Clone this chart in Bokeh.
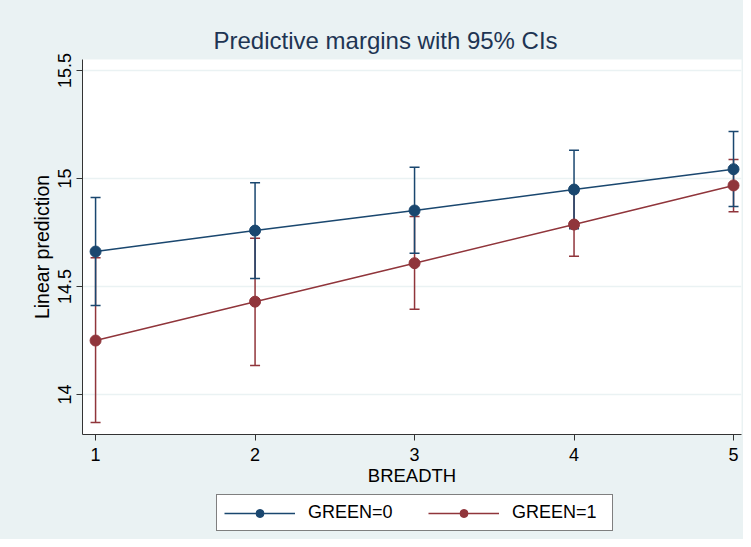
from bokeh.plotting import figure
from bokeh.models import (ColumnDataSource, Whisker, TeeHead, Legend, LegendItem,
                          FixedTicker, Range1d)
from bokeh.layouts import column
from bokeh.embed import file_html
from bokeh.resources import INLINE

# ---- data ----
breadth = [1, 2, 3, 4, 5]
green0_mean = [14.662, 14.759, 14.852, 14.949, 15.043]
green0_lower = [14.412, 14.537, 14.654, 14.767, 14.870]
green0_upper = [14.912, 14.981, 15.052, 15.131, 15.218]
green1_mean = [14.250, 14.430, 14.608, 14.787, 14.968]
green1_lower = [13.870, 14.134, 14.395, 14.640, 14.846]
green1_upper = [14.633, 14.724, 14.824, 14.935, 15.088]
y_ticks = [14, 14.5, 15, 15.5]
y_tick_labels = ["14", "14.5", "15", "15.5"]
x_ticks = [1, 2, 3, 4, 5]
series_labels = ["GREEN=0", "GREEN=1"]

BLUE = "#1a476f"
RED = "#90353b"
BG = "#eaf2f3"
FONT = "Liberation Sans"

p = figure(width=743, height=490, output_backend="svg", toolbar_location=None,
           x_range=Range1d(0.918, 5.05), y_range=Range1d(13.815, 15.551),
           min_border_left=82, min_border_right=2, min_border_top=59,
           min_border_bottom=56)
p.border_fill_color = BG
p.background_fill_color = "white"
p.outline_line_color = None

p.title.text = "Predictive margins with 95% CIs"
p.title.align = "left"
p.title.offset = 131
p.title.standoff = 12
p.title.text_font = FONT
p.title.text_font_size = "24px"
p.title.text_font_style = "normal"
p.title.text_color = "#1e3553"

src0 = ColumnDataSource(dict(x=breadth, y=green0_mean, lo=green0_lower, hi=green0_upper))
src1 = ColumnDataSource(dict(x=breadth, y=green1_mean, lo=green1_lower, hi=green1_upper))

for src, col in ((src1, RED), (src0, BLUE)):
    w = Whisker(source=src, base="x", lower="lo", upper="hi",
                line_color=col, line_width=1.5,
                lower_head=TeeHead(size=10, line_color=col, line_width=1.5),
                upper_head=TeeHead(size=10, line_color=col, line_width=1.5))
    p.add_layout(w)

p.line("x", "y", source=src0, line_color=BLUE, line_width=1.5)
p.scatter("x", "y", source=src0, size=11, fill_color=BLUE, line_color=BLUE)
p.line("x", "y", source=src1, line_color=RED, line_width=1.5)
p.scatter("x", "y", source=src1, size=11, fill_color=RED, line_color=RED)

# axes
p.xaxis.ticker = FixedTicker(ticks=x_ticks)
p.yaxis.ticker = FixedTicker(ticks=y_ticks)
p.yaxis.major_label_overrides = {t: s for t, s in zip(y_ticks, y_tick_labels)}
p.yaxis.major_label_orientation = "vertical"
p.xaxis.axis_label = "BREADTH"
p.yaxis.axis_label = "Linear prediction"
for ax in (p.xaxis, p.yaxis):
    ax.axis_line_color = "#333333"
    ax.major_tick_line_color = "#333333"
    ax.major_tick_out = 6
    ax.major_tick_in = 0
    ax.minor_tick_line_color = None
    ax.major_label_text_font = FONT
    ax.major_label_text_font_size = "18px"
    ax.major_label_text_color = "black"
    ax.axis_label_text_font = FONT
    ax.axis_label_text_font_style = "normal"
    ax.axis_label_text_color = "black"
p.xaxis.axis_label_text_font_size = "18.5px"
p.yaxis.axis_label_text_font_size = "19.5px"
p.xaxis.major_label_standoff = 7
p.xaxis.axis_label_standoff = 1
p.yaxis.major_label_standoff = 5
p.yaxis.axis_label_standoff = 3

p.xgrid.grid_line_color = None
p.ygrid.grid_line_color = BG
p.ygrid.grid_line_width = 1.5

# ---- legend strip (separate figure so it is not clipped by the plot frame) ----
lg = figure(width=743, height=49, output_backend="svg", toolbar_location=None,
            x_range=Range1d(-20, -19), y_range=Range1d(-20, -19),
            x_axis_location=None, y_axis_location=None,
            min_border_left=0, min_border_right=0, min_border_top=0,
            min_border_bottom=0)
lg.border_fill_color = None
lg.background_fill_color = None
lg.outline_line_color = None
lg.grid.visible = False
k0 = lg.line("x", "y", source=src0, line_color=BLUE, line_width=1.5)
m0 = lg.scatter("x", "y", source=src0, size=11, fill_color=BLUE, line_color=BLUE)
k1 = lg.line("x", "y", source=src1, line_color=RED, line_width=1.5)
m1 = lg.scatter("x", "y", source=src1, size=11, fill_color=RED, line_color=RED)

legend = Legend(items=[LegendItem(label=series_labels[0], renderers=[k0, m0]),
                       LegendItem(label=series_labels[1], renderers=[k1, m1])],
                orientation="horizontal", location=(134, 8))
legend.border_line_color = "black"
legend.border_line_width = 1
legend.background_fill_color = "white"
legend.background_fill_alpha = 1
legend.label_text_font = FONT
legend.label_text_font_size = "18px"
legend.label_text_color = "black"
legend.glyph_width = 71
legend.glyph_height = 20
legend.label_width = 93
legend.spacing = 27
legend.label_standoff = 13
legend.padding = 7
legend.margin = 0
lg.add_layout(legend, "center")

layout = column(p, lg, spacing=0, styles={"background-color": BG})
open("out.html", "w").write(file_html(layout, INLINE))
